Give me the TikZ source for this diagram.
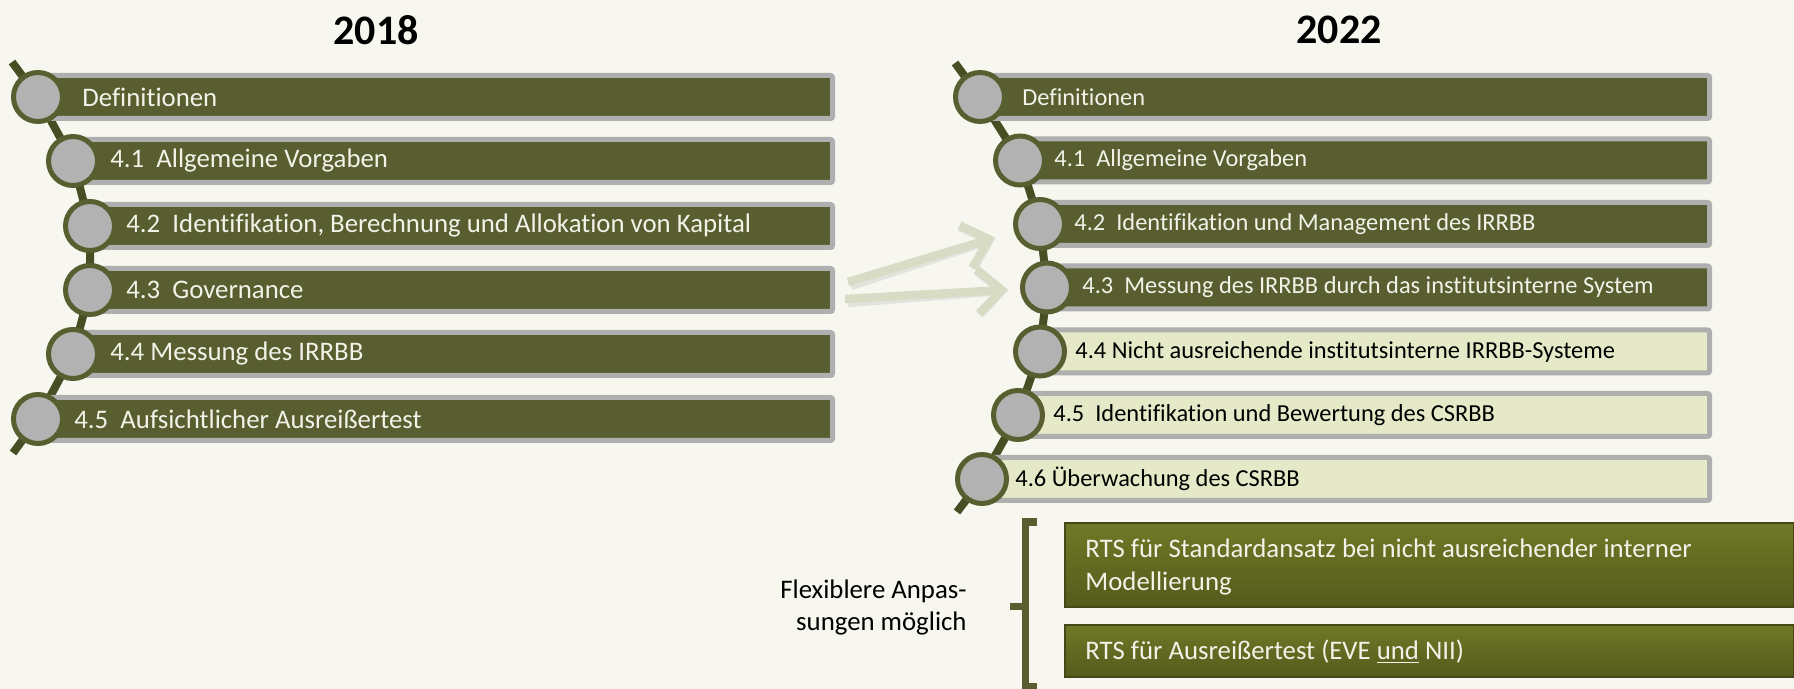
\documentclass[tikz,border=0pt]{standalone}
\usepackage{fontspec}
\setmainfont{Carlito}[Ligatures={NoCommon}]
\usetikzlibrary{arrows.meta}
\definecolor{bgcol}{RGB}{247,247,240}
\definecolor{olivebar}{RGB}{88,94,47}
\definecolor{spinecol}{RGB}{72,78,36}
\definecolor{framegray}{RGB}{175,175,175}
\definecolor{circgray}{RGB}{178,178,178}
\definecolor{lightbar}{RGB}{230,233,199}
\definecolor{arrowcol}{RGB}{216,220,196}
\definecolor{rtstop}{RGB}{112,120,38}
\definecolor{rtsbot}{RGB}{84,91,28}
\definecolor{whitetext}{RGB}{242,242,232}
\tikzset{
  title/.style={font=\fontsize{21}{25}\selectfont\bfseries},
  spine/.style={draw=spinecol, line width=4pt},
  darkbar/.style={draw=framegray, fill=olivebar, line width=2.5pt, rounded corners=1pt},
  lightrow/.style={draw=framegray, fill=lightbar, line width=2.5pt, rounded corners=1pt},
  knob/.style={circle, draw=olivebar, fill=circgray, line width=2.5pt, minimum size=24.5pt, inner sep=0pt},
  ltext/.style={anchor=west, inner sep=0pt, text=whitetext, font=\fontsize{13.4}{16}\selectfont},
  rtext/.style={anchor=west, inner sep=0pt, text=whitetext, font=\fontsize{12.2}{14.5}\selectfont},
  rdark/.style={rtext, text=black},
  bigarrow/.style={draw=arrowcol, line width=4.2pt, -{Straight Barb[length=12pt,width=22pt]}},
  arrowshade/.style={bigarrow, draw=black!25, opacity=0.35},
  rtsbox/.style={top color=rtstop, bottom color=rtsbot, draw=rtsbot!80!black, line width=0.6pt},
  rtstext/.style={anchor=west, inner sep=0pt, align=left, text=whitetext, font=\fontsize{13.4}{16.6}\selectfont},
  bracket/.style={draw=olivebar, line width=3.5pt},
  flextext/.style={anchor=east, inner sep=0pt, align=right, font=\fontsize{13.4}{16}\selectfont}
}
\begin{document}
\begin{tikzpicture}[x=0.5pt,y=0.5pt,yscale=-1,xscale=1]
\useasboundingbox[fill=bgcol] (0,0) rectangle (1794,689);

% Titles
\node[title] (y18) at (376,30) {2018};
\node[title] (y22) at (1339,30) {2022};

% Left column: knob centres and spine
\coordinate (lc0) at (38,97);
\coordinate (lc1) at (73,161);
\coordinate (lc2) at (90,226);
\coordinate (lc3) at (90,290);
\coordinate (lc4) at (73,354);
\coordinate (lc5) at (38,419);
\draw[spine] (12,62) -- (lc0) -- (lc1) -- (lc2) -- (lc3) -- (lc4) -- (lc5) -- (13,453);

% Left bars
\draw[darkbar] (38,75.5) rectangle (832.5,118.5);
\draw[darkbar] (73,139.5) rectangle (832.5,182.5);
\draw[darkbar] (90,204.5) rectangle (832.5,247.5);
\draw[darkbar] (90,268.5) rectangle (832.5,311.5);
\draw[darkbar] (73,332.5) rectangle (832.5,375.5);
\draw[darkbar] (38,397.5) rectangle (832.5,440.5);

% Left knobs
\node[knob] (l0) at (lc0) {};
\node[knob] (l1) at (lc1) {};
\node[knob] (l2) at (lc2) {};
\node[knob] (l3) at (lc3) {};
\node[knob] (l4) at (lc4) {};
\node[knob] (l5) at (lc5) {};

% Left texts
\node[ltext] (lt0) at (82,97) {Definitionen};
\node[ltext] (lt1) at (110,161) {4.1\ \ Allgemeine Vorgaben};
\node[ltext] (lt2) at (126,226) {4.2\ \ Identifikation, Berechnung und Allokation von Kapital};
\node[ltext] (lt3) at (126,290) {4.3\ \ Governance};
\node[ltext] (lt4) at (110,354) {4.4 Messung des IRRBB};
\node[ltext] (lt5) at (74,419) {4.5\ \ Aufsichtlicher Ausreißertest};

% Right column: knob centres and spine
\coordinate (rc0) at (980,97);
\coordinate (rc1) at (1020,160.5);
\coordinate (rc2) at (1040,224);
\coordinate (rc3) at (1047,287.5);
\coordinate (rc4) at (1040,351.5);
\coordinate (rc5) at (1018,415);
\coordinate (rc6) at (982,479);
\draw[spine] (955,63) -- (rc0) -- (rc1) -- (rc2) -- (rc3) -- (rc4) -- (rc5) -- (rc6) -- (957,512);

% Right bars
\draw[darkbar] (980,75.5) rectangle (1709.5,118.5);
\draw[darkbar] (1020,139) rectangle (1709.5,182);
\draw[darkbar] (1040,202.5) rectangle (1709.5,245.5);
\draw[darkbar] (1047,266) rectangle (1709.5,309);
\draw[lightrow] (1040,330) rectangle (1709.5,373);
\draw[lightrow] (1018,393.5) rectangle (1709.5,436.5);
\draw[lightrow] (982,457.5) rectangle (1709.5,500.5);

% Right knobs
\node[knob] (r0) at (rc0) {};
\node[knob] (r1) at (rc1) {};
\node[knob] (r2) at (rc2) {};
\node[knob] (r3) at (rc3) {};
\node[knob] (r4) at (rc4) {};
\node[knob] (r5) at (rc5) {};
\node[knob] (r6) at (rc6) {};

% Right texts
\node[rtext] (rt0) at (1022,97) {Definitionen};
\node[rtext] (rt1) at (1054,160.5) {4.1\ \ Allgemeine Vorgaben};
\node[rtext] (rt2) at (1074,224) {4.2\ \ Identifikation und Management des IRRBB};
\node[rtext] (rt3) at (1082,287.5) {4.3\ \ Messung des IRRBB durch das institutsinterne System};
\node[rdark] (rt4) at (1075,351.5) {4.4 Nicht ausreichende institutsinterne IRRBB-Systeme};
\node[rdark] (rt5) at (1053,415) {4.5\ \ Identifikation und Bewertung des CSRBB};
\node[rdark] (rt6) at (1015,479) {4.6 Überwachung des CSRBB};

% Arrows 4.3 -> new sections
\coordinate (a1) at (848,282);
\coordinate (a2) at (845,299);
\draw[arrowshade, shorten >=10pt] ([shift={(3,4)}]a1) -- ([shift={(3,4)}]r2);
\draw[arrowshade, shorten >=6pt] ([shift={(3,4)}]a2) -- ([shift={(3,4)}]r3);
\draw[bigarrow, shorten >=10pt] (a1) -- (r2);
\draw[bigarrow, shorten >=6pt] (a2) -- (r3);

% RTS boxes
\shade[rtsbox] (1065,523) rectangle (1794,607);
\shade[rtsbox] (1065,625) rectangle (1794,677);
\node[rtstext] (rts1) at (1085,567) {RTS für Standardansatz bei nicht ausreichender interner\\Modellierung};
\node[rtstext] (rts2) at (1085,652) {RTS für Ausreißertest (EVE \underline{und} NII)};

% Bracket and note
\draw[bracket] (1037,522) -- (1025,522) -- (1025,686) -- (1037,686);
\draw[bracket] (1025,606) -- (1010,606);
\node[flextext] (flex) at (967,607) {Flexiblere Anpas-\\sungen möglich};
\end{tikzpicture}
\end{document}
